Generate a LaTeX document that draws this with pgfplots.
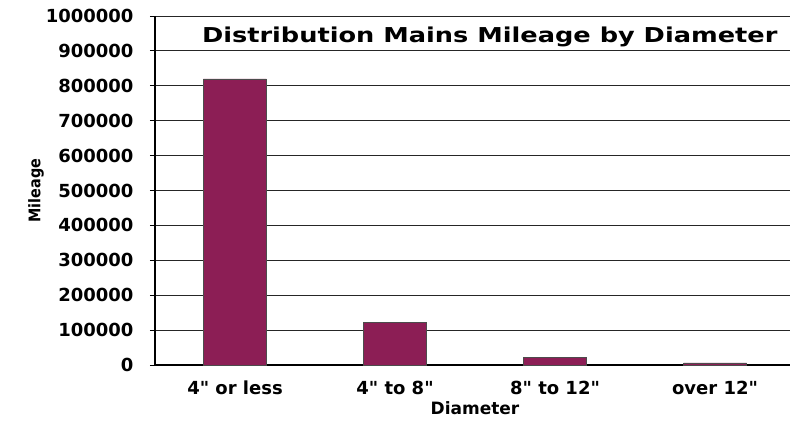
\documentclass[border=0pt]{standalone}
\usepackage{fontspec}
\setmainfont{DejaVu Sans}
\newfontfamily\qf{DejaVu Sans}
\newcommand\dq{{\qf\bfseries"}}
\usepackage{pgfplots}
\pgfplotsset{compat=1.18}
\definecolor{barc}{RGB}{140,30,85}
\begin{document}
\begin{tikzpicture}
\begin{axis}[name=ax,
  scale only axis, width=640pt, height=349pt,
  xmin=-0.5, xmax=3.5, ymin=0, ymax=1000000,
  ytick={0,100000,...,1000000},
  scaled y ticks=false,
  /pgf/number format/assume math mode=true,
  yticklabel style={/pgf/number format/fixed, /pgf/number format/1000 sep={}, font=\bfseries\fontsize{18}{18}\selectfont, xshift=-13pt},
  xtick={0,1,2,3},
  xticklabels={4\dq{} or less, 4\dq{} to 8\dq, 8\dq{} to 12\dq, over 12\dq},
  xticklabel style={font=\bfseries\fontsize{18}{18}\selectfont, text height=13pt, text depth=1pt, yshift=-8pt},
  x tick style={draw=none},
  extra x ticks={0.5,1.5,2.5},
  extra x tick labels={},
  extra x tick style={major tick length=5pt, tick style={draw=black, line width=1pt}},
  axis x line*=bottom, axis y line*=left,
  axis line style={line width=1.2pt, black},
  tick align=outside, major tick length=5pt,
  y tick style={black, line width=1pt},
  ymajorgrids, grid style={black!85, line width=1pt},
  ylabel={\scalebox{0.9}[1]{Mileage}},
  ylabel style={font=\bfseries\fontsize{16}{16}\selectfont, yshift=-5pt},
  xlabel={Diameter},
  xlabel style={font=\bfseries\fontsize{17}{17}\selectfont, yshift=11pt},
  ybar, bar width=63pt,
]
\addplot[fill=barc, draw=black!70] coordinates {(0,820000) (1,123000) (2,22000) (3,6000)};
\node[font=\bfseries\fontsize{20.5}{20.5}\selectfont, fill=white, inner sep=1pt] at (rel axis cs:0.523,0.94) {\scalebox{1.25}[1]{Distribution Mains Mileage by Diameter}};
\end{axis}
\pgfresetboundingbox
\path[use as bounding box] ([xshift=-155pt,yshift=-56pt]ax.south west) rectangle ([xshift=635pt,yshift=365pt]ax.south west);
\end{tikzpicture}
\end{document}
